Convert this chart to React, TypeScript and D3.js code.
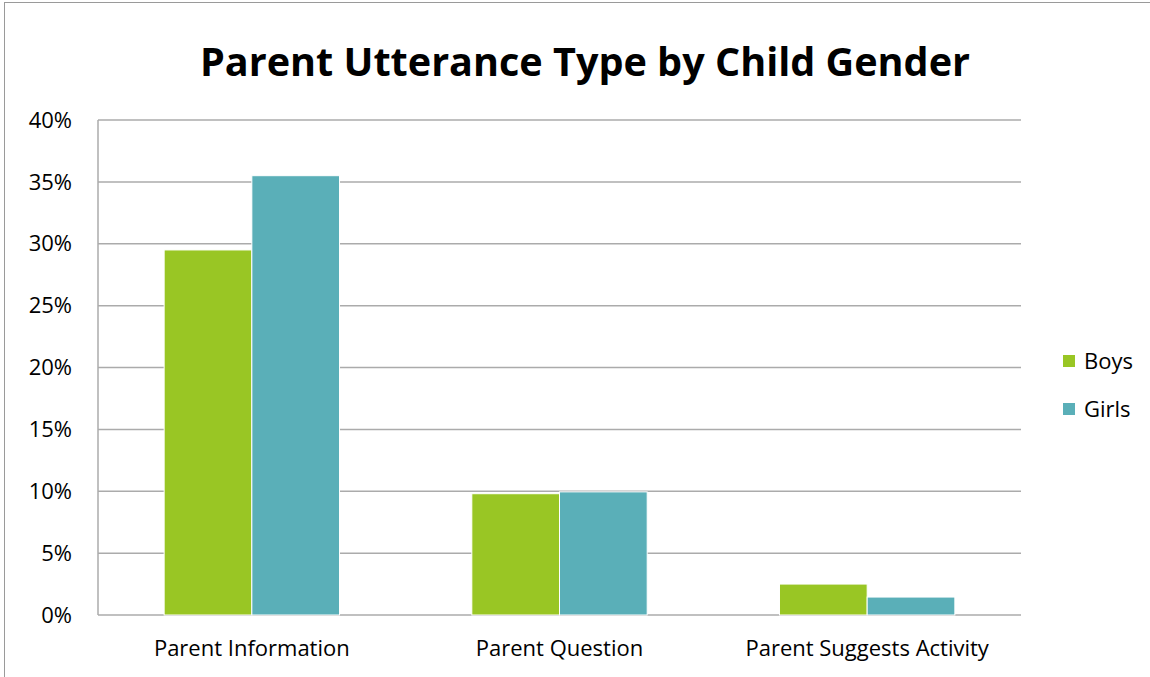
import React from "react";
import * as d3 from "d3";

// chart values
const categories = ["Parent Information", "Parent Question", "Parent Suggests Activity"];
const seriesNames = ["Boys", "Girls"];
const boys = [0.295, 0.098, 0.025];
const girls = [0.355, 0.0995, 0.0145];
const yTicks = [0, 0.05, 0.1, 0.15, 0.2, 0.25, 0.3, 0.35, 0.4];
const colors = ["#99C624", "#5AAFB8"];

const W = 1150;
const H = 677;
const margin = { top: 120, right: 129, bottom: 62, left: 98 };
const font = "'Open Sans', sans-serif";

const App = () => {
  const plotW = W - margin.left - margin.right;
  const plotH = H - margin.top - margin.bottom;

  const x = d3.scaleBand().domain(categories).range([0, plotW]).paddingInner(0.43).paddingOuter(0.215);
  const xInner = d3.scaleBand().domain(seriesNames).range([0, x.bandwidth()]);
  const y = d3.scaleLinear().domain([0, 0.4]).range([plotH, 0]);
  const fmt = d3.format(".0%");
  const values = [boys, girls];

  return (
    <svg width={W} height={H} style={{ position: "absolute", left: 0, top: 0, background: "#fff" }}>
      <rect x={4.5} y={2.5} width={W} height={H} fill="#fff" stroke="#9a9a9a" strokeWidth={1} />
      <text
        x={585}
        y={76}
        textAnchor="middle"
        fontFamily={font}
        fontWeight="bold"
        fontSize={40}
        textLength={770}
        lengthAdjust="spacingAndGlyphs"
        fill="#000"
      >
        Parent Utterance Type by Child Gender
      </text>
      <g transform={`translate(${margin.left},${margin.top})`}>
        {yTicks.map((t) => (
          <g key={t}>
            <line x1={0} x2={plotW} y1={y(t)} y2={y(t)} stroke="#ababab" strokeWidth={1.5} />
            <text x={-26} y={y(t)} dy="0.35em" textAnchor="end" fontFamily={font} fontSize={22} fill="#000">
              {fmt(t)}
            </text>
          </g>
        ))}
        <line x1={0} x2={0} y1={0} y2={plotH} stroke="#ababab" strokeWidth={1.5} />
        {categories.map((c, i) => (
          <g key={c} transform={`translate(${x(c)},0)`}>
            {seriesNames.map((s, k) => (
              <rect
                key={s}
                x={xInner(s)}
                y={y(values[k][i])}
                width={xInner.bandwidth()}
                height={plotH - y(values[k][i])}
                fill={colors[k]}
                stroke="#fff"
                strokeWidth={1}
              />
            ))}
            <text x={x.bandwidth() / 2} y={plotH + 41} textAnchor="middle" fontFamily={font} fontSize={22} fill="#000">
              {c}
            </text>
          </g>
        ))}
      </g>
      <g transform="translate(1063,355)">
        {seriesNames.map((s, k) => (
          <g key={s} transform={`translate(0,${k * 48})`}>
            <rect x={0} y={0} width={12} height={12} fill={colors[k]} />
            <text x={21} y={6} dy="0.35em" fontFamily={font} fontSize={22} fill="#000">
              {s}
            </text>
          </g>
        ))}
      </g>
    </svg>
  );
};

export default App;
